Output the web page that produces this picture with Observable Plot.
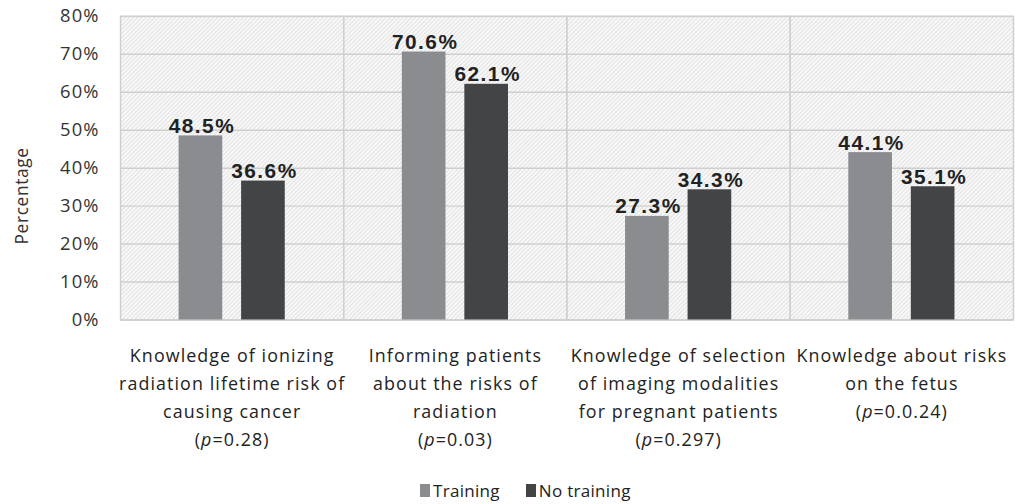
<!DOCTYPE html>
<html>
<head>
<meta charset="utf-8">
<script src="https://cdn.jsdelivr.net/npm/d3@7"></script>
<script src="https://cdn.jsdelivr.net/npm/@observablehq/plot@0.6"></script>
<style>
  html, body { margin: 0; padding: 0; background: #fff; overflow: hidden; }
  #wrap { position: relative; width: 1015px; height: 504px; overflow: hidden; }
  #legend { position: absolute; left: 420px; top: 479px; display: flex; align-items: center;
            font-family: "Open Sans", sans-serif; font-size: 17px; color: #222; letter-spacing: 0.3px; }
  #legend .item { display: flex; align-items: center; margin-right: 26px; }
  #legend .sw { width: 10px; height: 13px; margin-right: 3px; }
  g[aria-label="fx-axis tick label"] text { letter-spacing: 1.1px; }
</style>
</head>
<body>
<div id="wrap"><div id="chart"></div><div id="legend"></div></div>
<script>
const categories = ["Lifetime risk", "Informing patients", "Imaging selection", "Fetus risks"];
const categoryLabels = [
  "Knowledge of ionizing\nradiation lifetime risk of\ncausing cancer",
  "Informing patients\nabout the risks of\nradiation",
  "Knowledge of selection\nof imaging modalities\nfor pregnant patients",
  "Knowledge about risks\non the fetus"
];
const pValues = ["0.28", "0.03", "0.297", "0.0.24"];
const series = ["Training", "No training"];
const training = [48.5, 70.6, 27.3, 44.1];
const noTraining = [36.6, 62.1, 34.3, 35.1];
const yTicks = [0, 10, 20, 30, 40, 50, 60, 70, 80];
const yTitle = "Percentage";
const colors = ["#8b8c90", "#434446"];

const data = [];
categories.forEach((c, i) => {
  data.push({category: c, series: series[0], value: training[i]});
  data.push({category: c, series: series[1], value: noTraining[i]});
});

const chart = Plot.plot({
  width: 1023,
  height: 470,
  marginLeft: 119,
  marginRight: 1,
  marginTop: 16,
  marginBottom: 148,
  style: {fontFamily: "'Open Sans', sans-serif", color: "#222", background: "transparent"},
  fx: {domain: categories, padding: 0, label: null},
  x: {domain: series, paddingInner: 0.306, paddingOuter: 0.93, axis: null},
  y: {domain: [0, 80], label: null, axis: null},
  color: {domain: series, range: colors},
  marks: [
    Plot.frame({fill: "url(#hatch)", stroke: "#cfcfcf", strokeWidth: 1.5}),
    Plot.gridY(yTicks, {stroke: "#cfcfcf", strokeOpacity: 1, strokeWidth: 1.5}),
    Plot.barY(data, {fx: "category", x: "series", y: "value", fill: "series"}),
    Plot.text(data, {fx: "category", x: "series", y: "value",
      text: d => d.value.toFixed(1) + "%", lineAnchor: "bottom", dy: -3, dx: 1,
      fontFamily: "'Liberation Sans', Arial, sans-serif", fontWeight: "bold",
      fontSize: 21, fill: "#222"}),
    Plot.text(yTicks, {fx: () => categories[0], y: d => d, text: d => d + "%", frameAnchor: "left",
      textAnchor: "end", dx: -21, fontSize: 18.5, fill: "#333"}),
    Plot.text([yTitle], {facet: "super", frameAnchor: "left", textAnchor: "middle", rotate: -90, dx: -99, dy: 28,
      fontSize: 17.5, fill: "#333"}),
    Plot.axisFx({anchor: "bottom", tickSize: 0, tickPadding: 22, fontSize: 18, lineHeight: 1.57, label: null,
      fill: "#222",
      tickFormat: d => { const i = categories.indexOf(d); return categoryLabels[i] + "\n(p=" + pValues[i] + ")"; }})
  ]
});

// font tweaks by text role
chart.querySelectorAll("text").forEach(t => {
  const s = t.textContent;
  if (/^\d+\.\d%$/.test(s)) { t.style.letterSpacing = "1.5px"; }
  else if (/^\d+%$/.test(s)) { t.style.letterSpacing = "1.2px"; }
  else if (s === yTitle) { t.style.letterSpacing = "0.6px"; }
});

// hatch pattern for plot background
const ns = "http://www.w3.org/2000/svg";
const defs = document.createElementNS(ns, "defs");
const pat = document.createElementNS(ns, "pattern");
pat.setAttribute("id", "hatch");
pat.setAttribute("patternUnits", "userSpaceOnUse");
pat.setAttribute("width", "3");
pat.setAttribute("height", "3");
pat.setAttribute("patternTransform", "rotate(45)");
const r = document.createElementNS(ns, "rect");
r.setAttribute("width", "3"); r.setAttribute("height", "3"); r.setAttribute("fill", "#f8f8f8");
const l = document.createElementNS(ns, "rect");
l.setAttribute("width", "1"); l.setAttribute("height", "3"); l.setAttribute("fill", "#e2e2e2");
pat.appendChild(r); pat.appendChild(l); defs.appendChild(pat);
chart.insertBefore(defs, chart.firstChild);

// italic "p"
chart.querySelectorAll("tspan, text").forEach(t => {
  if (t.childElementCount === 0 && t.textContent.startsWith("(p=")) {
    const rest = t.textContent.slice(2);
    t.textContent = "(";
    const it = document.createElementNS(ns, "tspan");
    it.setAttribute("font-style", "italic");
    it.textContent = "p";
    t.appendChild(it);
    t.appendChild(document.createTextNode(rest));
  }
});

document.getElementById("chart").appendChild(chart);

const legend = document.getElementById("legend");
series.forEach((s, i) => {
  const item = document.createElement("div");
  item.className = "item";
  const sw = document.createElement("div");
  sw.className = "sw";
  sw.style.background = colors[i];
  const tx = document.createElement("span");
  tx.textContent = s;
  item.appendChild(sw); item.appendChild(tx);
  legend.appendChild(item);
});
</script>
</body>
</html>
